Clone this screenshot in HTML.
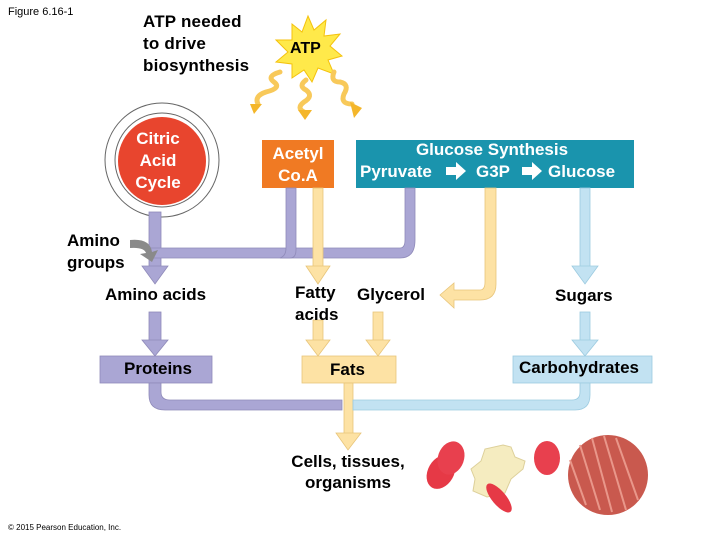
<!DOCTYPE html>
<html><head><style>
body{margin:0;background:#fff}
svg text{font-family:"Liberation Sans",Arial,sans-serif;font-weight:bold}
</style></head><body>
<svg width="720" height="540" viewBox="0 0 720 540" xmlns="http://www.w3.org/2000/svg">
<rect width="720" height="540" fill="#fff"/>
<text x="8" y="15" font-size="11" style="font-weight:normal">Figure 6.16-1</text>
<g font-size="17" letter-spacing="0.2">
<text x="143" y="27">ATP needed</text>
<text x="143" y="49">to drive</text>
<text x="143" y="71">biosynthesis</text>
</g>
<!-- ATP burst -->
<polygon points="308,16 314,30 326,20 324,36 340,34 330,46 342,56 328,60 334,74 318,68 312,82 304,70 292,78 292,64 276,62 288,52 276,40 292,40 292,24 302,32" fill="#ffe94a" stroke="#f4c20d"/>
<text x="290" y="53" font-size="16">ATP</text>
<g fill="none" stroke="#f8c95a" stroke-width="5" stroke-linecap="round">
<path d="M280,72 q-14,4 -6,10 q8,6 -8,10 q-12,4 -8,12"/>
<path d="M306,80 q-8,6 0,10 q8,6 -2,12 q-8,6 0,10"/>
<path d="M334,72 q-4,10 6,10 q10,2 4,12 q-4,10 8,10"/>
</g>
<g fill="#f4b62a">
<polygon points="250,104 262,104 254,114"/>
<polygon points="298,110 312,110 305,120"/>
<polygon points="350,102 362,108 354,118"/>
</g>
<!-- citric acid cycle -->
<circle cx="162" cy="160" r="52" fill="none" stroke="#666" stroke-width="11"/>
<circle cx="162" cy="160" r="52" fill="none" stroke="#fff" stroke-width="9"/>
<circle cx="162" cy="161" r="44" fill="#e8452e"/>
<g font-size="17" fill="#fff" text-anchor="middle">
<text x="158" y="144">Citric</text>
<text x="158" y="166">Acid</text>
<text x="158" y="188">Cycle</text>
</g>
<!-- boxes -->
<rect x="262" y="140" width="72" height="48" fill="#f07a23"/>
<g font-size="17" fill="#fff">
<text x="298" y="159" text-anchor="middle">Acetyl</text>
<text x="298" y="181" text-anchor="middle">Co.A</text>
</g>
<rect x="356" y="140" width="278" height="48" fill="#1a94ad"/>
<g font-size="17" fill="#fff">
<text x="492" y="155" text-anchor="middle">Glucose Synthesis</text>
<text x="360" y="177">Pyruvate</text>
<text x="476" y="177">G3P</text>
<text x="548" y="177">Glucose</text>
</g>
<polygon points="446,167 456,167 456,162 466,171 456,180 456,175 446,175" fill="#fff"/>
<polygon points="522,167 532,167 532,162 542,171 532,180 532,175 522,175" fill="#fff"/>
<!-- purple connectors -->
<g fill="#aaa6d4" stroke="#8f8ab9" stroke-width="0.8">
<rect x="149" y="212" width="12" height="56"/>
<path d="M149,248 H400 Q405,248 405,240 V188 H415 V240 Q415,258 400,258 H149 Z"/>
<path d="M286,188 H296 V250 Q296,258 290,258 H280 Q286,256 286,248 Z"/>
<polygon points="142,266 168,266 155,284"/>
<rect x="149" y="312" width="12" height="30"/>
<polygon points="142,340 168,340 155,356"/>
<rect x="100" y="356" width="112" height="27"/>
<path d="M149,383 H161 V392 Q161,400 170,400 H342 V410 H165 Q149,410 149,395 Z"/>
</g>
<path d="M130,240 Q150,238 152,252 L158,250 L152,262 L140,254 L146,253 Q144,247 130,248 Z" fill="#8a8a8a"/>
<!-- yellow connectors -->
<g fill="#fde2a4" stroke="#e8c57a" stroke-width="0.8">
<rect x="313" y="188" width="10" height="80"/>
<polygon points="306,266 330,266 318,284"/>
<path d="M485,188 H496 V284 Q496,300 480,300 H454 V308 L440,295 L454,283 V290 H480 Q485,290 485,282 Z"/>
<rect x="313" y="320" width="10" height="22"/>
<polygon points="306,340 330,340 318,356"/>
<rect x="373" y="312" width="10" height="30"/>
<polygon points="366,340 390,340 378,356"/>
<rect x="302" y="356" width="94" height="27"/>
<rect x="344" y="383" width="9" height="52"/>
<polygon points="336,433 361,433 348,450"/>
</g>
<!-- blue connectors -->
<g fill="#c2e2f2" stroke="#9ccbe0" stroke-width="0.8">
<rect x="580" y="188" width="10" height="80"/>
<polygon points="572,266 598,266 585,284"/>
<rect x="580" y="312" width="10" height="30"/>
<polygon points="572,340 598,340 585,356"/>
<rect x="513" y="356" width="139" height="27"/>
<path d="M580,383 H590 V395 Q590,410 575,410 H353 V400 H572 Q580,400 580,392 Z"/>
</g>
<!-- labels -->
<g font-size="17">
<text x="67" y="246">Amino</text>
<text x="67" y="268">groups</text>
<text x="105" y="300">Amino acids</text>
<text x="295" y="298">Fatty</text>
<text x="295" y="320">acids</text>
<text x="357" y="300">Glycerol</text>
<text x="555" y="301">Sugars</text>
<text x="124" y="374">Proteins</text>
<text x="330" y="375">Fats</text>
<text x="519" y="373">Carbohydrates</text>
<text x="348" y="467" text-anchor="middle">Cells, tissues,</text>
<text x="348" y="488" text-anchor="middle">organisms</text>
</g>
<!-- cells -->
<ellipse cx="441" cy="472" rx="13" ry="18" transform="rotate(30 441 472)" fill="#e63946"/>
<ellipse cx="451" cy="458" rx="13" ry="17" transform="rotate(20 451 458)" fill="#e8404e"/>
<path d="M503,445 l8,2 l4,10 l10,4 l-2,8 l-12,10 l-6,14 l-18,4 l-14,-6 l2,-12 l-4,-10 l10,-8 l4,-12 z" fill="#f5ecc0" stroke="#ddd09a"/>
<ellipse cx="547" cy="458" rx="13" ry="17" fill="#e8404e"/>
<ellipse cx="499" cy="498" rx="7" ry="18" transform="rotate(-40 499 498)" fill="#e63946"/>
<circle cx="608" cy="475" r="40" fill="#c9594e"/>
<g stroke="#e9978a" stroke-width="2">
<line x1="580" y1="445" x2="600" y2="510"/><line x1="592" y1="438" x2="612" y2="512"/><line x1="604" y1="436" x2="626" y2="510"/><line x1="616" y1="438" x2="638" y2="500"/><line x1="570" y1="460" x2="586" y2="505"/>
</g>
<text x="8" y="530" font-size="8" style="font-weight:normal">© 2015 Pearson Education, Inc.</text>
</svg>
</body></html>
